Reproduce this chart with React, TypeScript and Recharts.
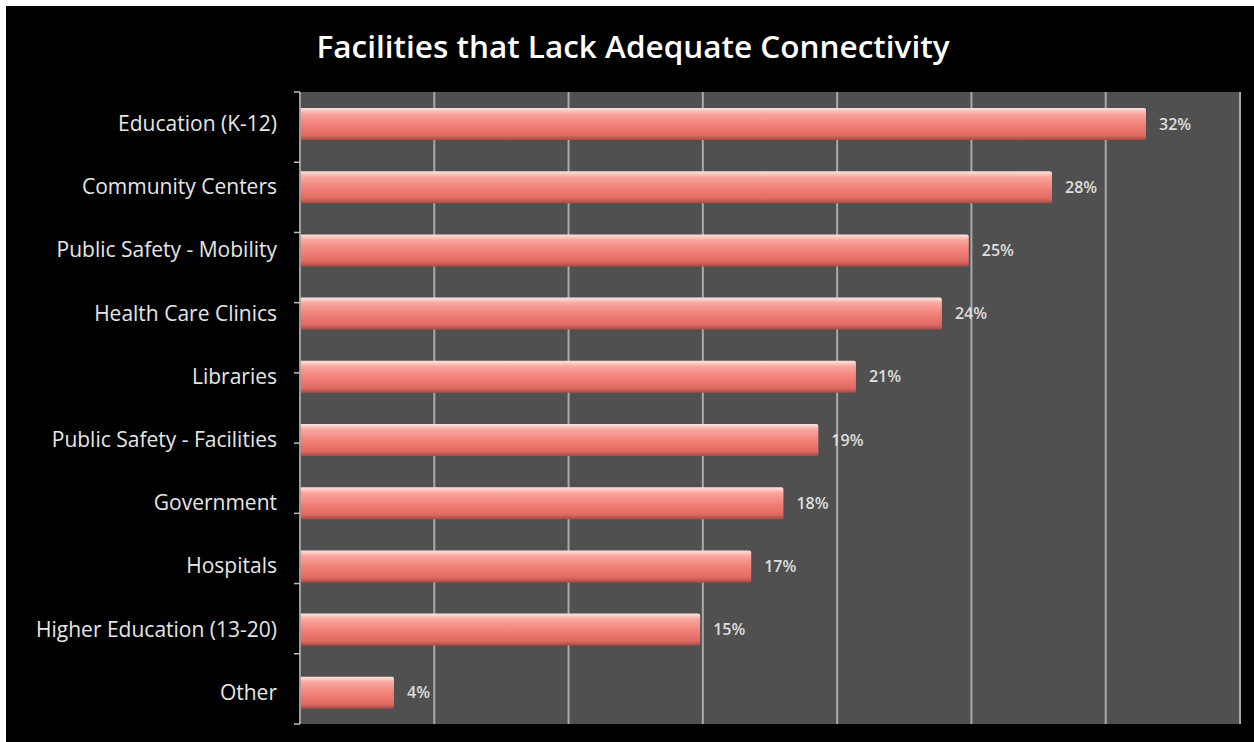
import { BarChart, Bar, XAxis, YAxis, CartesianGrid, LabelList } from "recharts";

// Facility categories, top to bottom
const categories = [
  "Education (K-12)",
  "Community Centers",
  "Public Safety - Mobility",
  "Health Care Clinics",
  "Libraries",
  "Public Safety - Facilities",
  "Government",
  "Hospitals",
  "Higher Education (13-20)",
  "Other",
];

// share of facilities lacking adequate connectivity (%)
const shares = [31.5, 28.0, 24.9, 23.9, 20.7, 19.3, 18.0, 16.8, 14.9, 3.5];

// printed value labels
const valueLabels = ["32%", "28%", "25%", "24%", "21%", "19%", "18%", "17%", "15%", "4%"];

const xTicks = [0, 5, 10, 15, 20, 25, 30, 35];
const boundaryTicks = [0, 1, 2, 3, 4, 5, 6, 7, 8, 9, 10];

const data = categories.map((name, i) => ({ name, share: shares[i], label: valueLabels[i] }));

const FONT = "'Open Sans', 'DejaVu Sans', sans-serif";

export default function App() {
  return (
    <div style={{ position: "absolute", left: 0, top: 0, width: 1254, height: 742, background: "#fff" }}>
      <div style={{ position: "absolute", left: 6, top: 6, width: 1248, height: 736, background: "#000" }}>
        <div
          style={{
            position: "absolute",
            left: 0,
            top: 24,
            width: 1254,
            textAlign: "center",
            color: "#fff",
            fontFamily: FONT,
            fontWeight: 600,
            fontSize: 31.5,
            lineHeight: 1,
          }}
        >
          Facilities that Lack Adequate Connectivity
        </div>
        <BarChart
          width={1248}
          height={736}
          data={data}
          layout="vertical"
          margin={{ top: 86, right: 14, bottom: 18, left: 0 }}
          barSize={32}
        >
          <defs>
            <linearGradient id="barFill" x1="0" y1="0" x2="0" y2="1">
              <stop offset="0%" stopColor="#fde4e0" />
              <stop offset="18%" stopColor="#f8a69e" />
              <stop offset="50%" stopColor="#f2837a" />
              <stop offset="85%" stopColor="#e06a62" />
              <stop offset="100%" stopColor="#a84a46" />
            </linearGradient>
          </defs>
          <CartesianGrid
            horizontal={false}
            vertical
            fill="#505050"
            fillOpacity={1}
            stroke="#a9a9a9"
            strokeWidth={2}
            xAxisId="x"
            yAxisId="b"
          />
          <XAxis xAxisId="x" type="number" domain={[0, 35]} ticks={xTicks} hide height={0} />
          <YAxis
            yAxisId="a"
            type="number"
            domain={[0, 10]}
            ticks={boundaryTicks}
            width={8}
            axisLine={{ stroke: "#9a9a9a", strokeWidth: 1.5 }}
            tickLine={{ stroke: "#bdbdbd", strokeWidth: 1.5 }}
            tickSize={6}
            tickFormatter={() => ""}
          />
          <YAxis
            yAxisId="b"
            type="category"
            dataKey="name"
            width={286}
            tickLine={false}
            axisLine={false}
            tickMargin={9}
            tick={{ fill: "#e6e6e6", fontSize: 21, fontFamily: FONT }}
            interval={0}
          />
          <Bar
            xAxisId="x"
            yAxisId="b"
            dataKey="share"
            fill="url(#barFill)"
            radius={[0, 2, 2, 0]}
            isAnimationActive={false}
          >
            <LabelList
              dataKey="label"
              position="right"
              offset={13}
              fill="#dedede"
              fontSize={16}
              fontWeight={600}
              fontFamily={FONT}
            />
          </Bar>
        </BarChart>
      </div>
    </div>
  );
}
